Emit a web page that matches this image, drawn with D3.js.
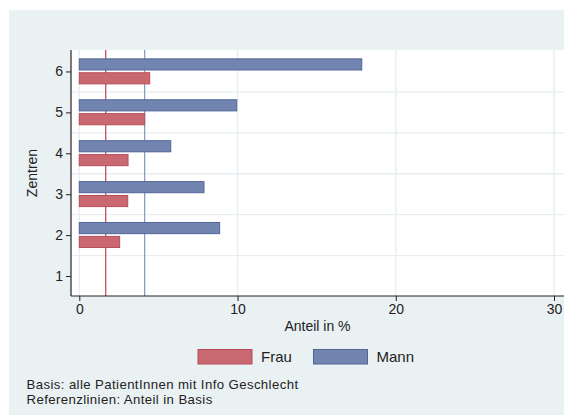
<!DOCTYPE html>
<html>
<head>
<meta charset="utf-8">
<script src="https://cdn.jsdelivr.net/npm/d3@7"></script>
<style>
  html, body { margin: 0; padding: 0; background: #ffffff; }
  svg { display: block; font-family: "Liberation Sans", Arial, Helvetica, sans-serif; }
</style>
</head>
<body>
<svg id="chart" width="564" height="416"></svg>
<script>
// Zentren (centres) shown on the y axis, share in % per sex
const zentren = [1, 2, 3, 4, 5, 6];
const series = ["Mann", "Frau"];
const frauValues = [0, 2.55, 3.06, 3.08, 4.13, 4.45];
const mannValues = [0, 8.87, 7.88, 5.78, 9.95, 17.85];
// reference lines: share in the base population
const refFrau = 1.67;
const refMann = 4.13;
const xTicks = [0, 10, 20, 30];
const notes = ["Basis: alle PatientInnen mit Info Geschlecht", "Referenzlinien: Anteil in Basis"];

const colors = {
  Frau: { fill: "#ca6872", stroke: "#b84c59", ref: "#c0434f" },
  Mann: { fill: "#7285b0", stroke: "#516599", ref: "#8397c4" }
};

const svg = d3.select("#chart");

// outer background
svg.append("rect").attr("x", 9).attr("y", 10).attr("width", 555).attr("height", 405)
  .attr("fill", "#eaf1f3");

const plot = { left: 71, right: 564, top: 50, bottom: 296 };
svg.append("rect").attr("x", plot.left).attr("y", plot.top)
  .attr("width", plot.right - plot.left).attr("height", plot.bottom - plot.top)
  .attr("fill", "#ffffff");

const x = d3.scaleLinear().domain([0, 30]).range([79.3, 554]);
const y = d3.scaleLinear().domain([0.5, 6.5]).range([296.5, 51]);
const inner = d3.scaleBand().domain(series).range([-12.6, 12.4]).paddingInner(0.2).paddingOuter(0);

// grid
const grid = svg.append("g").attr("stroke", "#e6eef1").attr("stroke-width", 1.4);
grid.selectAll("line.v").data(xTicks).join("line")
  .attr("x1", d => x(d)).attr("x2", d => x(d))
  .attr("y1", plot.top).attr("y2", plot.bottom);
grid.selectAll("line.h").data([1.5, 2.5, 3.5, 4.5, 5.5]).join("line")
  .attr("x1", plot.left).attr("x2", plot.right)
  .attr("y1", d => y(d)).attr("y2", d => y(d));

// reference lines
svg.append("line").attr("x1", x(refFrau)).attr("x2", x(refFrau))
  .attr("y1", plot.top).attr("y2", plot.bottom)
  .attr("stroke", colors.Frau.ref).attr("stroke-width", 1.2);
svg.append("line").attr("x1", x(refMann)).attr("x2", x(refMann))
  .attr("y1", plot.top).attr("y2", plot.bottom)
  .attr("stroke", colors.Mann.ref).attr("stroke-width", 1.2);

// bars
const rows = [];
zentren.forEach((z, i) => {
  rows.push({ z, s: "Mann", v: mannValues[i] });
  rows.push({ z, s: "Frau", v: frauValues[i] });
});
svg.append("g").selectAll("rect").data(rows.filter(d => d.v > 0)).join("rect")
  .attr("x", x(0))
  .attr("y", d => y(d.z) + inner(d.s))
  .attr("width", d => x(d.v) - x(0))
  .attr("height", inner.bandwidth())
  .attr("fill", d => colors[d.s].fill)
  .attr("stroke", d => colors[d.s].stroke)
  .attr("stroke-width", 1);

// axes
const xAxis = d3.axisBottom(x).tickValues(xTicks).tickSize(5).tickPadding(3).tickFormat(d3.format("d"));
const gx = svg.append("g").attr("transform", `translate(0,${plot.bottom})`).call(xAxis);
gx.select(".domain").remove();
gx.append("line").attr("x1", plot.left).attr("x2", plot.right).attr("stroke", "#222").attr("stroke-width", 1.2);
gx.selectAll(".tick line").attr("stroke", "#222");
gx.selectAll(".tick text").attr("font-size", 14).attr("fill", "#222").attr("font-family", null);

const yAxis = d3.axisLeft(y).tickValues(zentren).tickSize(5).tickPadding(3).tickFormat(d3.format("d"));
const gy = svg.append("g").attr("transform", `translate(${plot.left},0)`).call(yAxis);
gy.select(".domain").remove();
gy.append("line").attr("y1", plot.top).attr("y2", plot.bottom).attr("stroke", "#222").attr("stroke-width", 1.2);
gy.selectAll(".tick line").attr("stroke", "#222");
gy.selectAll(".tick text").attr("font-size", 14).attr("fill", "#222").attr("font-family", null);

// axis titles
svg.append("text").attr("x", (plot.left + plot.right) / 2).attr("y", 330.5)
  .attr("text-anchor", "middle").attr("font-size", 14).attr("fill", "#222").text("Anteil in %");
svg.append("text").attr("transform", `translate(37,${(plot.top + plot.bottom) / 2}) rotate(-90)`)
  .attr("text-anchor", "middle").attr("font-size", 14).attr("fill", "#222").text("Zentren");

// legend
const legendItems = [
  { s: "Frau", x: 198 },
  { s: "Mann", x: 313.5 }
];
const lg = svg.append("g").selectAll("g").data(legendItems).join("g")
  .attr("transform", d => `translate(${d.x},349.5)`);
lg.append("rect").attr("width", 54).attr("height", 14.5)
  .attr("fill", d => colors[d.s].fill).attr("stroke", d => colors[d.s].stroke).attr("stroke-width", 1);
lg.append("text").attr("x", 63).attr("y", 12.5).attr("font-size", 15).attr("fill", "#222").text(d => d.s);

// notes
svg.append("g").selectAll("text").data(notes).join("text")
  .attr("x", 26.5).attr("y", (d, i) => 388.5 + i * 15)
  .attr("font-size", 13.2).attr("letter-spacing", 0.4).attr("fill", "#222").text(d => d);
</script>
</body>
</html>
